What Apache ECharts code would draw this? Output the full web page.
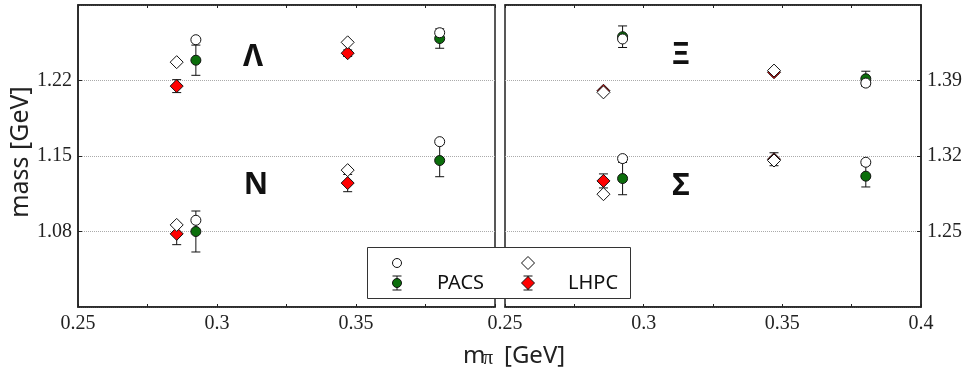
<!DOCTYPE html>
<html>
<head>
<meta charset="utf-8">
<script src="https://cdn.jsdelivr.net/npm/echarts@6/dist/echarts.min.js"></script>
<style>
  html, body { margin: 0; padding: 0; background: #fff; }
  #chart { width: 965px; height: 369px; }
</style>
</head>
<body>
<div id="chart"></div>
<script>
// pion masses [GeV]
const pacsMpi = [0.2924, 0.3801]
const lhpcMpi = [0.2855, 0.347]

// left panel: N and Lambda
const nPacsOpen = [1.0904, 1.1633]
const nPacs = [1.0800, 1.1458]
const nPacsErr = [0.019, 0.015]
const nLhpcOpen = [1.0861, 1.1369]
const nLhpc = [1.0778, 1.1249]
const nLhpcErr = [0.010, 0.008]

const lamPacsOpen = [1.2578, 1.2643]
const lamPacs = [1.2388, 1.2589]
const lamPacsErr = [0.014, 0.009]
const lamLhpcOpen = [1.2370, 1.2554]
const lamLhpc = [1.2148, 1.2453]
const lamLhpcErr = [0.006, 0.003]

// right panel: Xi and Sigma
const xiPacsOpen = [1.4285, 1.3876]
const xiPacs = [1.4306, 1.3916]
const xiPacsErr = [0.010, 0.007]
const xiLhpcOpen = [1.3790, 1.3992]
const xiLhpc = [1.3805, 1.3977]
const xiLhpcErr = [0.002, 0.002]

const sigPacsOpen = [1.3176, 1.3142]
const sigPacs = [1.2991, 1.3013]
const sigPacsErr = [0.015, 0.010]
const sigLhpcOpen = [1.2846, 1.3158]
const sigLhpc = [1.2969, 1.3170]
const sigLhpcErr = [0.0065, 0.006]

// axis ticks
const xTicks = { min: 0.25, max: 0.4, interval: 0.05 }
const yLeft = { min: 1.01, max: 1.29, interval: 0.07 }
const yRight = { min: 1.18, max: 1.46, interval: 0.07 }

const GREEN = '#0b6e0b'
const RED = '#ff0000'
const SERIF = "'Liberation Serif', 'DejaVu Serif', serif"
const labelFont = { fontFamily: SERIF, fontSize: 20, color: '#222' }

function pairs(xs, ys) {
  return xs.map((x, i) => [x, ys[i]])
}

function errSeries(k, xs, ys, es) {
  return {
    type: 'custom',
    xAxisIndex: k,
    yAxisIndex: k,
    z: 1,
    silent: true,
    data: xs.map((x, i) => [x, ys[i] - es[i], ys[i] + es[i]]),
    encode: { x: 0, y: [1, 2] },
    renderItem(params, api) {
      const lo = api.coord([api.value(0), api.value(1)])
      const hi = api.coord([api.value(0), api.value(2)])
      const w = 4.5
      const st = { stroke: '#111', lineWidth: 1 }
      return {
        type: 'group',
        children: [
          { type: 'line', shape: { x1: lo[0], y1: lo[1], x2: hi[0], y2: hi[1] }, style: st },
          { type: 'line', shape: { x1: lo[0] - w, y1: lo[1], x2: lo[0] + w, y2: lo[1] }, style: st },
          { type: 'line', shape: { x1: hi[0] - w, y1: hi[1], x2: hi[0] + w, y2: hi[1] }, style: st }
        ]
      }
    }
  }
}

function dots(k, xs, ys, kind, filled) {
  const isCircle = kind === 'circle'
  return {
    type: 'scatter',
    xAxisIndex: k,
    yAxisIndex: k,
    z: filled ? 2 : 3,
    silent: true,
    symbol: kind,
    symbolSize: isCircle ? 10 : 13,
    data: pairs(xs, ys),
    itemStyle: {
      color: filled ? (isCircle ? GREEN : RED) : '#fff',
      borderColor: '#111',
      borderWidth: 1,
      opacity: 1
    }
  }
}

function xAxisCfg(k, top, showMax) {
  return {
    gridIndex: k,
    type: 'value',
    position: top ? 'top' : 'bottom',
    ...xTicks,
    axisLine: { show: true, onZero: false, lineStyle: { color: '#222', width: 1.5 } },
    axisTick: { show: true, inside: true, length: 3, lineStyle: { color: '#222' } },
    minorTick: { show: true, splitNumber: 2, length: 3, lineStyle: { color: '#222' } },
    axisLabel: top ? { show: false } : { ...labelFont, margin: 7, showMaxLabel: showMax },
    splitLine: { show: false },
    minorSplitLine: { show: false }
  }
}

function yAxisCfg(k, pos, range) {
  return {
    gridIndex: k,
    type: 'value',
    position: pos,
    ...range,
    axisLine: { show: true, onZero: false, lineStyle: { color: '#222', width: 1.5 } },
    axisTick: { show: true, inside: true, length: 4, lineStyle: { color: '#222' } },
    axisLabel: {
      ...labelFont,
      margin: 6,
      showMinLabel: false,
      showMaxLabel: false,
      formatter: (v) => v.toFixed(2)
    },
    splitLine: { show: true, lineStyle: { color: '#aaa', type: 'dotted', width: 1 } }
  }
}

function diamondPts(cx, cy, r) {
  return [[cx, cy - r], [cx + r, cy], [cx, cy + r], [cx - r, cy]]
}

function legendErr(cx, cy) {
  const st = { stroke: '#111', lineWidth: 1 }
  return [
    { type: 'line', shape: { x1: cx, y1: cy - 7, x2: cx, y2: cy + 7 }, style: st },
    { type: 'line', shape: { x1: cx - 4.5, y1: cy - 7, x2: cx + 4.5, y2: cy - 7 }, style: st },
    { type: 'line', shape: { x1: cx - 4.5, y1: cy + 7, x2: cx + 4.5, y2: cy + 7 }, style: st }
  ]
}

const greek = { fontFamily: 'Noto Sans', fontWeight: 'bold', fontSize: 30, fill: '#111', align: 'center', verticalAlign: 'middle' }
const titleFont = { fontFamily: 'Noto Sans', fontSize: 24, fill: '#222' }

const chart = echarts.init(document.getElementById('chart'))
chart.setOption({
  animation: false,
  grid: [
    { left: 78, right: 470, top: 5, bottom: 62, show: true, borderColor: '#222', borderWidth: 1.5, backgroundColor: 'transparent' },
    { left: 505, right: 43, top: 5, bottom: 62, show: true, borderColor: '#222', borderWidth: 1.5, backgroundColor: 'transparent' }
  ],
  xAxis: [xAxisCfg(0, false, false), xAxisCfg(1, false, true), xAxisCfg(0, true), xAxisCfg(1, true)],
  yAxis: [yAxisCfg(0, 'left', yLeft), yAxisCfg(1, 'right', yRight)],
  series: [
    errSeries(0, pacsMpi, nPacs, nPacsErr),
    errSeries(0, lhpcMpi, nLhpc, nLhpcErr),
    errSeries(0, pacsMpi, lamPacs, lamPacsErr),
    errSeries(0, lhpcMpi, lamLhpc, lamLhpcErr),
    dots(0, pacsMpi, nPacs, 'circle', true),
    dots(0, lhpcMpi, nLhpc, 'diamond', true),
    dots(0, pacsMpi, lamPacs, 'circle', true),
    dots(0, lhpcMpi, lamLhpc, 'diamond', true),
    dots(0, pacsMpi, nPacsOpen, 'circle', false),
    dots(0, lhpcMpi, nLhpcOpen, 'diamond', false),
    dots(0, pacsMpi, lamPacsOpen, 'circle', false),
    dots(0, lhpcMpi, lamLhpcOpen, 'diamond', false),

    errSeries(1, pacsMpi, xiPacs, xiPacsErr),
    errSeries(1, lhpcMpi, xiLhpc, xiLhpcErr),
    errSeries(1, pacsMpi, sigPacs, sigPacsErr),
    errSeries(1, lhpcMpi, sigLhpc, sigLhpcErr),
    dots(1, pacsMpi, xiPacs, 'circle', true),
    dots(1, lhpcMpi, xiLhpc, 'diamond', true),
    dots(1, pacsMpi, sigPacs, 'circle', true),
    dots(1, lhpcMpi, sigLhpc, 'diamond', true),
    dots(1, pacsMpi, xiPacsOpen, 'circle', false),
    dots(1, lhpcMpi, xiLhpcOpen, 'diamond', false),
    dots(1, pacsMpi, sigPacsOpen, 'circle', false),
    dots(1, lhpcMpi, sigLhpcOpen, 'diamond', false)
  ],
  graphic: [
    { type: 'text', x: 253, y: 57, style: { text: 'Λ', ...greek } },
    { type: 'text', x: 256, y: 185, style: { text: 'N', ...greek } },
    { type: 'text', x: 681, y: 55, style: { text: 'Ξ', ...greek } },
    { type: 'text', x: 681, y: 186, style: { text: 'Σ', ...greek } },
    // axis titles
    { type: 'text', x: 21, y: 152, rotation: Math.PI / 2, style: { text: 'mass [GeV]', ...titleFont, fontSize: 25, align: 'center', verticalAlign: 'middle' } },
    { type: 'text', x: 463, y: 356, style: { text: 'm', ...titleFont, align: 'left', verticalAlign: 'middle' } },
    { type: 'text', x: 483, y: 359, style: { text: 'π', fontFamily: SERIF, fontSize: 20, fill: '#222', align: 'left', verticalAlign: 'middle' } },
    { type: 'text', x: 504, y: 356, style: { text: '[GeV]', ...titleFont, align: 'left', verticalAlign: 'middle' } },
    // legend box
    {
      type: 'group',
      z: 100,
      children: [
        { type: 'rect', shape: { x: 367.5, y: 247.5, width: 263, height: 51 }, style: { fill: '#fff', stroke: '#333', lineWidth: 1 } },
        { type: 'circle', shape: { cx: 397, cy: 263, r: 4.5 }, style: { fill: '#fff', stroke: '#111', lineWidth: 1 } },
        ...legendErr(397, 283),
        { type: 'circle', shape: { cx: 397, cy: 283, r: 4.5 }, style: { fill: GREEN, stroke: '#111', lineWidth: 1 } },
        { type: 'text', x: 437, y: 283, style: { text: 'PACS', fontFamily: 'Noto Sans', fontSize: 20, fill: '#111', verticalAlign: 'middle' } },
        { type: 'polygon', shape: { points: diamondPts(528, 263, 6.5) }, style: { fill: '#fff', stroke: '#111', lineWidth: 1 } },
        ...legendErr(528, 283),
        { type: 'polygon', shape: { points: diamondPts(528, 283, 6.5) }, style: { fill: RED, stroke: '#111', lineWidth: 1 } },
        { type: 'text', x: 568, y: 283, style: { text: 'LHPC', fontFamily: 'Noto Sans', fontSize: 20, fill: '#111', verticalAlign: 'middle' } }
      ]
    }
  ]
})
</script>
</body>
</html>
